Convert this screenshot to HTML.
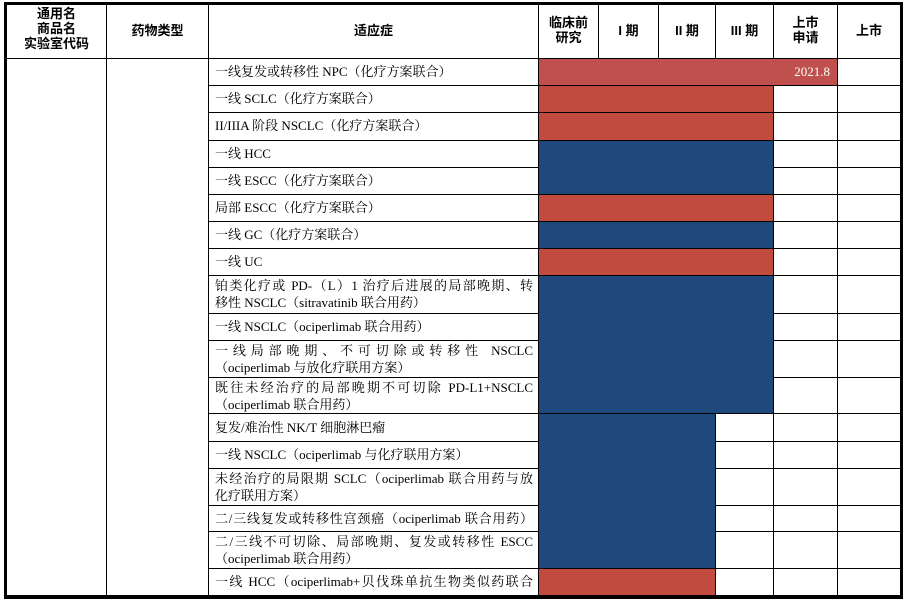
<!DOCTYPE html>
<html><head><meta charset="utf-8"><style>
body{margin:0;width:907px;height:602px;background:#fff;position:relative;overflow:hidden;font-family:"Liberation Serif","Noto Serif CJK SC",serif;}
.l{position:absolute;background:#000;}
.b{position:absolute;}
.t{position:absolute;left:215px;font-size:13px;line-height:17px;color:#000;white-space:nowrap;}
.j{display:block;width:318px;text-align:justify;text-align-last:justify;white-space:normal;}
.h{position:absolute;font-family:"Liberation Sans","Noto Sans CJK SC",sans-serif;font-weight:bold;font-size:13px;line-height:15px;text-align:center;color:#000;}
</style></head><body>
<!-- border lines -->
<div class="l" style="left:4px;top:2px;width:899px;height:3px"></div>
<div class="l" style="left:4px;top:595px;width:899px;height:4px"></div>
<div class="l" style="left:4px;top:2px;width:3px;height:597px"></div>
<div class="l" style="left:900px;top:2px;width:3px;height:597px"></div>
<div class="l" style="left:106px;top:2px;width:1px;height:595px"></div>
<div class="l" style="left:208px;top:2px;width:1px;height:595px"></div>
<div class="l" style="left:538px;top:2px;width:1px;height:595px"></div>
<div class="l" style="left:598px;top:2px;width:1px;height:56px"></div>
<div class="l" style="left:658px;top:2px;width:1px;height:56px"></div>
<div class="l" style="left:715px;top:2px;width:1px;height:56px"></div>
<div class="l" style="left:715px;top:413px;width:1px;height:183px"></div>
<div class="l" style="left:773px;top:2px;width:1px;height:595px"></div>
<div class="l" style="left:837px;top:2px;width:1px;height:595px"></div>
<div class="l" style="left:4px;top:58px;width:899px;height:1px"></div>
<div class="l" style="left:208px;top:85px;width:694px;height:1px"></div>
<div class="l" style="left:208px;top:112px;width:694px;height:1px"></div>
<div class="l" style="left:208px;top:140px;width:694px;height:1px"></div>
<div class="l" style="left:208px;top:167px;width:694px;height:1px"></div>
<div class="l" style="left:208px;top:194px;width:694px;height:1px"></div>
<div class="l" style="left:208px;top:221px;width:694px;height:1px"></div>
<div class="l" style="left:208px;top:248px;width:694px;height:1px"></div>
<div class="l" style="left:208px;top:275px;width:694px;height:1px"></div>
<div class="l" style="left:208px;top:313px;width:694px;height:1px"></div>
<div class="l" style="left:208px;top:340px;width:694px;height:1px"></div>
<div class="l" style="left:208px;top:377px;width:694px;height:1px"></div>
<div class="l" style="left:208px;top:413px;width:694px;height:1px"></div>
<div class="l" style="left:208px;top:441px;width:694px;height:1px"></div>
<div class="l" style="left:208px;top:468px;width:694px;height:1px"></div>
<div class="l" style="left:208px;top:505px;width:694px;height:1px"></div>
<div class="l" style="left:208px;top:531px;width:694px;height:1px"></div>
<div class="l" style="left:208px;top:568px;width:694px;height:1px"></div>
<!-- bars -->
<div class="b" style="left:539px;top:59px;width:298px;height:26px;background:#c0504d"></div>
<div class="b" style="left:539px;top:86px;width:234px;height:26px;background:#c24b40"></div>
<div class="b" style="left:539px;top:113px;width:234px;height:27px;background:#c24b40"></div>
<div class="b" style="left:539px;top:141px;width:234px;height:53px;background:#1f497d"></div>
<div class="b" style="left:539px;top:195px;width:234px;height:26px;background:#c24b40"></div>
<div class="b" style="left:539px;top:222px;width:234px;height:26px;background:#1f497d"></div>
<div class="b" style="left:539px;top:249px;width:234px;height:26px;background:#c24b40"></div>
<div class="b" style="left:539px;top:276px;width:234px;height:137px;background:#1f497d"></div>
<div class="b" style="left:539px;top:414px;width:176px;height:154px;background:#1f497d"></div>
<div class="b" style="left:539px;top:569px;width:176px;height:26px;background:#c24b40"></div>
<div class="t" style="left:790px;top:63px;width:40px;text-align:right;color:#fff">2021.8</div>
<!-- headers -->
<div class="h" style="left:7px;top:6px;width:99px">通用名<br>商品名<br>实验室代码</div>
<div class="h" style="left:107px;top:23px;width:101px">药物类型</div>
<div class="h" style="left:209px;top:23px;width:329px">适应症</div>
<div class="h" style="left:539px;top:15px;width:59px">临床前<br>研究</div>
<div class="h" style="left:599px;top:23px;width:59px">I 期</div>
<div class="h" style="left:659px;top:23px;width:56px">II 期</div>
<div class="h" style="left:716px;top:23px;width:57px">III 期</div>
<div class="h" style="left:774px;top:15px;width:63px">上市<br>申请</div>
<div class="h" style="left:838px;top:23px;width:62px">上市</div>
<!-- indications -->
<div class="t" style="top:63px">一线复发或转移性 NPC（化疗方案联合）</div>
<div class="t" style="top:90px">一线 SCLC（化疗方案联合）</div>
<div class="t" style="top:117px">II/IIIA 阶段 NSCLC（化疗方案联合）</div>
<div class="t" style="top:145px">一线 HCC</div>
<div class="t" style="top:172px">一线 ESCC（化疗方案联合）</div>
<div class="t" style="top:199px">局部 ESCC（化疗方案联合）</div>
<div class="t" style="top:226px">一线 GC（化疗方案联合）</div>
<div class="t" style="top:253px">一线 UC</div>
<div class="t" style="top:277px"><span class="j">铂类化疗或 PD-（L）1 治疗后进展的局部晚期、转</span>移性 NSCLC（sitravatinib 联合用药）</div>
<div class="t" style="top:318px">一线 NSCLC（ociperlimab 联合用药）</div>
<div class="t" style="top:342px"><span class="j">一线局部晚期、不可切除或转移性 NSCLC</span>（ociperlimab 与放化疗联用方案）</div>
<div class="t" style="top:379px"><span class="j">既往未经治疗的局部晚期不可切除 PD-L1+NSCLC</span>（ociperlimab 联合用药）</div>
<div class="t" style="top:419px">复发/难治性 NK/T 细胞淋巴瘤</div>
<div class="t" style="top:446px">一线 NSCLC（ociperlimab 与化疗联用方案）</div>
<div class="t" style="top:470px"><span class="j">未经治疗的局限期 SCLC（ociperlimab 联合用药与放</span>化疗联用方案）</div>
<div class="t" style="top:510px"><span class="j">二/三线复发或转移性宫颈癌（ociperlimab 联合用药）</span></div>
<div class="t" style="top:533px"><span class="j">二/三线不可切除、局部晚期、复发或转移性 ESCC</span>（ociperlimab 联合用药）</div>
<div class="t" style="top:573px"><span class="j">一线 HCC（ociperlimab+贝伐珠单抗生物类似药联合</span></div>
</body></html>
